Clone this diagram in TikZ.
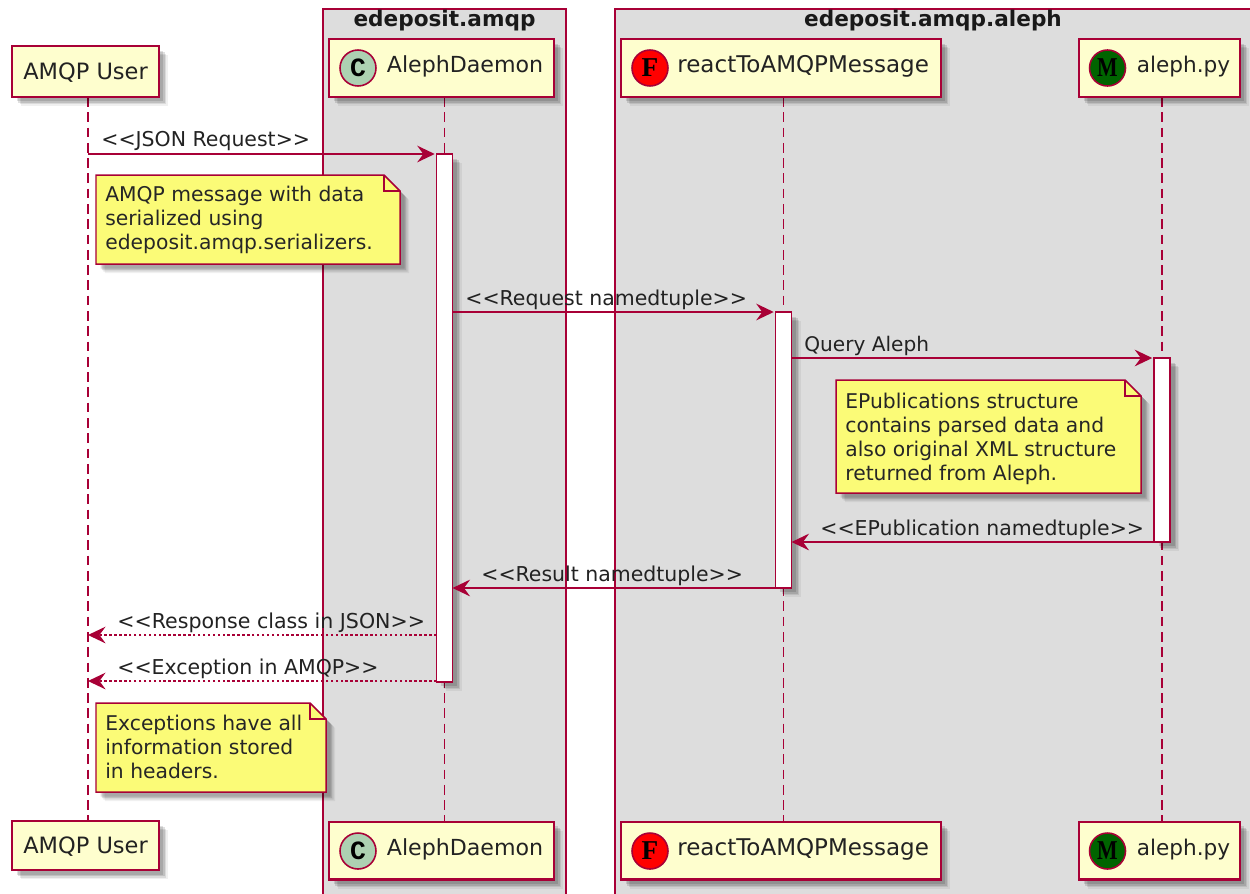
\documentclass[tikz,border=0pt]{standalone}
\usepackage{fontspec}
\setmainfont{DejaVu Sans}
\newfontfamily\spotfont{Liberation Mono}[BoldFont={Liberation Mono Bold}]
\newfontfamily\spotserif{Liberation Serif}[BoldFont={Liberation Serif Bold}]
\usetikzlibrary{arrows.meta,shadows}
\definecolor{umlred}{HTML}{A80036}
\definecolor{umlbox}{HTML}{FEFECE}
\definecolor{umlgroup}{HTML}{DDDDDD}
\definecolor{umlnote}{HTML}{FBFB77}
\definecolor{umltext}{HTML}{222222}
\definecolor{umlgreen}{HTML}{ADD1B2}
\definecolor{umldark}{HTML}{006400}
\tikzset{
  x=0.02cm,y=-0.02cm,
  softshadow/.style={
    general shadow={fill=black,opacity=.06,shadow xshift=9pt*0.569,shadow yshift=-9pt*0.569},
    general shadow={fill=black,opacity=.09,shadow xshift=7.5pt*0.569,shadow yshift=-7.5pt*0.569},
    general shadow={fill=black,opacity=.12,shadow xshift=6pt*0.569,shadow yshift=-6pt*0.569},
    general shadow={fill=black,opacity=.12,shadow xshift=4.5pt*0.569,shadow yshift=-4.5pt*0.569}},
  grp/.style={draw=umlred,fill=umlgroup,line width=.85pt},
  part/.style={draw=umlred,fill=umlbox,line width=1.15pt,softshadow,inner sep=0pt,outer sep=0pt},
  bar/.style={draw=umlred,fill=white,line width=.85pt,softshadow,inner sep=0pt,outer sep=0pt,minimum width=16*0.569pt},
  life/.style={draw=umlred,line width=.95pt,dash pattern=on 5.5pt off 3.2pt},
  msg/.style={draw=umlred,line width=.8pt,-{Stealth[length=10pt,width=9.5pt,inset=3.5pt]}},
  ret/.style={msg,line width=.7pt,dash pattern=on 1.4pt off 1.4pt},
  notebody/.style={draw=umlred,fill=umlnote,line width=.85pt,line join=miter,softshadow},
  fold/.style={draw=umlred,line width=.85pt},
  txt/.style={inner sep=0pt,anchor=base west,text=umltext,font=\fontsize{#1}{14}\selectfont},
  txt/.default=11.65,
  ptxt/.style={inner sep=0pt,anchor=base west,text=umltext,font=\fontsize{#1}{15}\selectfont},
  ntxt/.style={inner sep=0pt,anchor=north west,align=left,text=black!85,font=\fontsize{11.55}{13.66}\selectfont},
  gtxt/.style={inner sep=0pt,anchor=base,text=black!90,font=\bfseries\fontsize{12.3}{14}\selectfont},
  spot/.style={circle,draw=umlred,line width=.9pt,minimum size=36*0.569pt,inner sep=0pt,text=black,font=\spotfont\bfseries\fontsize{15}{15}\selectfont},
  spots/.style={spot,font=\spotserif\bfseries\fontsize{15.5}{16}\selectfont},
}
\newcommand{\partbox}[5]{\node[part,minimum width=#4*0.569pt,minimum height=#5*0.569pt] (#1) at (#2,#3) {};}
\begin{document}
\begin{tikzpicture}
\useasboundingbox (0,0) rectangle (1250,893);
% groups
\path[grp] (323,9) rectangle (566,900);
\path[grp] (615,9) rectangle (1260,900);
\node[gtxt] (g1) at (444.5,26.5) {edeposit.amqp};
\node[gtxt] (g2) at (933,26.5) {edeposit.amqp.aleph};
% lifelines
\coordinate (lu) at (88,0);
\coordinate (utop) at (88,97); \coordinate (ubot) at (88,822);
\coordinate (atop) at (444.5,97); \coordinate (abot) at (444.5,822);
\coordinate (rtop) at (783.5,97); \coordinate (rbot) at (783.5,822);
\coordinate (mtop) at (1162,97); \coordinate (mbot) at (1162,822);
\path[life] (utop) -- (ubot);
\path[life] (atop) -- (abot);
\path[life] (rtop) -- (rbot);
\path[life] (mtop) -- (mbot);
% activations
\node[bar,minimum height=528*0.569pt] (aa) at (444.5,418) {};
\node[bar,minimum height=276*0.569pt] (ar) at (783.5,450) {};
\node[bar,minimum height=184*0.569pt] (am) at (1162,450) {};
% messages
\coordinate (m1) at (0,154); \coordinate (m2) at (0,312); \coordinate (m3) at (0,358);
\coordinate (m4) at (0,542); \coordinate (m5) at (0,588); \coordinate (m6) at (0,635); \coordinate (m7) at (0,681);
\path[msg,shorten >=1pt] (lu |- m1) -- (aa.west |- m1);
\path[msg,shorten >=1pt] (aa.east |- m2) -- (ar.west |- m2);
\path[msg,shorten >=1pt] (ar.east |- m3) -- (am.west |- m3);
\path[msg] (am.west |- m4) -- (ar.east |- m4);
\path[msg] (ar.west |- m5) -- (aa.east |- m5);
\path[ret] (aa.west |- m6) -- (lu |- m6);
\path[ret] (aa.west |- m7) -- (lu |- m7);
\node[txt] (t1) at (101,146) {<{}<JSON Request>{}>};
\node[txt] (t2) at (465,305) {<{}<Request namedtuple>{}>};
\node[txt=11.45] (t3) at (804,351) {Query Aleph};
\node[txt] (t4) at (820,535) {<{}<EPublication namedtuple>{}>};
\node[txt] (t5) at (481,581) {<{}<Result namedtuple>{}>};
\node[txt=11.7] (t6) at (117,628) {<{}<Response class in JSON>{}>};
\node[txt] (t7) at (117,674) {<{}<Exception in AMQP>{}>};
% notes
\path[notebody] (96,175) -- (384,175) -- (400,191) -- (400,264) -- (96,264) -- cycle;
\path[fold] (384,175) -- (384,191) -- (400,191);
\node[ntxt] (n1) at (105,186) {AMQP message with data\\serialized using\\edeposit.amqp.serializers.};
\path[notebody] (836,380) -- (1125,380) -- (1141,396) -- (1141,493) -- (836,493) -- cycle;
\path[fold] (1125,380) -- (1125,396) -- (1141,396);
\node[ntxt] (n2) at (845,393) {EPublications structure\\contains parsed data and\\also original XML structure\\returned from Aleph.};
\path[notebody] (96,703) -- (310,703) -- (326,719) -- (326,792) -- (96,792) -- cycle;
\path[fold] (310,703) -- (310,719) -- (326,719);
\node[ntxt] (n3) at (105,715) {Exceptions have all\\information stored\\in headers.};
% participants
\partbox{pu}{85.5}{71.5}{147}{51}
\partbox{pa}{441.5}{68}{225}{58}
\partbox{pr}{781}{68}{320}{58}
\partbox{pm}{1159.5}{68}{161}{58}
\partbox{qu}{85.5}{845.5}{147}{49}
\partbox{qa}{441.5}{850.5}{225}{58}
\partbox{qr}{781}{850.5}{320}{58}
\partbox{qm}{1159.5}{850.5}{161}{58}
\node[ptxt=12.8] (lu1) at (23,79) {AMQP User};
\node[ptxt=12.8] (lu2) at (23,853) {AMQP User};
\node[ptxt=12.6] (la1) at (386.5,72) {AlephDaemon};
\node[ptxt=12.6] (la2) at (386.5,855) {AlephDaemon};
\node[ptxt=13.1] (lr1) at (677,72) {reactToAMQPMessage};
\node[ptxt=13.1] (lr2) at (677,855) {reactToAMQPMessage};
\node[ptxt=12.3] (lm1) at (1136.5,72) {aleph.py};
\node[ptxt=12.3] (lm2) at (1136.5,855) {aleph.py};
\node[spot,fill=umlgreen] (s1) at (358,68) {C};
\node[spot,fill=umlgreen] (s2) at (358,851) {C};
\node[spots,fill=red] (s3) at (650,68) {F};
\node[spots,fill=red] (s4) at (650,851) {F};
\node[spots,fill=umldark] (s5) at (1107.5,68) {\scalebox{.8}[1]{M}};
\node[spots,fill=umldark] (s6) at (1107.5,851) {\scalebox{.8}[1]{M}};
\end{tikzpicture}
\end{document}
